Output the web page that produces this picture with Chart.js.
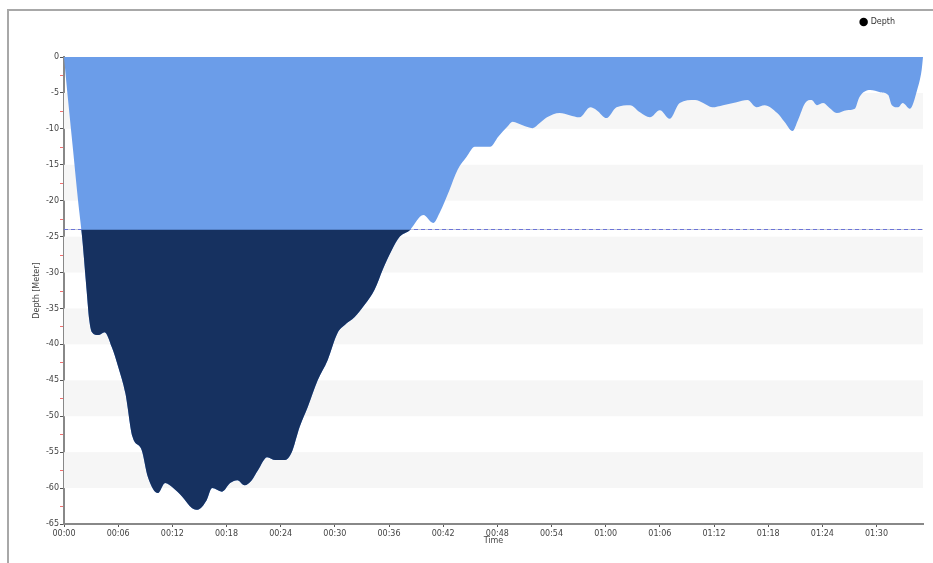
<!DOCTYPE html>
<html>
<head>
<meta charset="utf-8">
<script src="https://cdn.jsdelivr.net/npm/chart.js@4.4.1/dist/chart.umd.min.js"></script>
<style>
  html, body { margin: 0; padding: 0; background: #fff; }
  #frame { position: absolute; left: 7px; top: 9px; width: 926px; height: 554px;
           border-left: 2px solid #a8a8a8; border-top: 2px solid #a8a8a8; box-sizing: border-box; }
  #c { position: absolute; left: 0; top: 0; }
</style>
</head>
<body>
<div id="frame"></div>
<canvas id="c" width="933" height="563"></canvas>
<script>
// Dive time (minutes) and depth (meters)
const timeMin = [0, 0.45, 1.0, 1.55, 2.0, 2.5, 2.8, 3.1, 3.8, 4.5, 5.3, 6.0, 6.8, 7.6, 8.6, 9.3, 10.4, 11.2, 12.1, 13.1,
  14.2, 14.8, 15.8, 16.4, 17.5, 18.4, 19.2, 20.0, 20.8, 21.5, 22.5, 23.4, 24.5, 25.2, 26.1, 27.0, 28.1, 29.2, 30.3, 31.1,
  32.2, 33.3, 34.4, 35.3, 36.3, 37.2, 38.3, 39.8, 40.9, 41.6, 42.7, 43.6, 44.6, 45.5, 47.2, 48.1, 49.1, 49.7, 50.8, 51.9,
  52.7, 53.5, 54.9, 56.0, 57.1, 58.3, 59.0, 60.1, 61.2, 62.7, 63.8, 64.9, 66.0, 67.1, 68.2, 69.9, 70.8, 71.8, 73.0, 74.5,
  75.7, 76.7, 77.6, 79.0, 79.8, 80.7, 81.3, 82.1, 82.8, 83.4, 84.1, 84.8, 85.6, 86.7, 87.6, 88.1, 89.3, 90.4, 91.3, 91.7,
  92.4, 92.9, 93.7, 94.5, 95.0, 95.15];
const depthM = [0, -6, -12.9, -19.9, -25, -32.4, -36.6, -38.3, -38.7, -38.3, -40.4, -43.1, -46.8, -52.9, -54.7, -58.5, -60.7, -59.3, -60.0, -61.2,
  -62.8, -63.0, -61.7, -60.0, -60.5, -59.3, -58.9, -59.6, -58.9, -57.5, -55.7, -56.1, -56.1, -55.1, -51.5, -48.7, -45.0, -42.2, -38.4, -37.3,
  -36.2, -34.5, -32.4, -29.6, -26.9, -25.0, -24.1, -22.0, -23.1, -21.7, -18.5, -15.7, -13.9, -12.5, -12.5, -11.1, -9.7, -9.0, -9.5, -9.9,
  -9.2, -8.4, -7.8, -8.1, -8.4, -7.0, -7.4, -8.5, -7.0, -6.7, -7.7, -8.4, -7.4, -8.6, -6.4, -6.0, -6.4, -7.0, -6.7, -6.3,
  -6.0, -7.0, -6.7, -7.8, -9.0, -10.3, -8.8, -6.4, -6.0, -6.7, -6.4, -7.1, -7.8, -7.4, -7.2, -5.6, -4.6, -4.9, -5.3, -6.7,
  -7.0, -6.4, -7.2, -4.6, -1.8, 0];
const thresholdDepth = [-24];
const yTicks = [0, -5, -10, -15, -20, -25, -30, -35, -40, -45, -50, -55, -60, -65];
const xTickMinutes = [0, 6, 12, 18, 24, 30, 36, 42, 48, 54, 60, 66, 72, 78, 84, 90];
const seriesName = ['Depth'];

const fmtTime = v => {
  const h = Math.floor(v / 60), m = Math.round(v % 60);
  return String(h).padStart(2, '0') + ':' + String(m).padStart(2, '0');
};

const LIGHT = '#6b9de9';
const NAVY = '#163160';
const FONT = { family: 'DejaVu Sans', size: 8 };

const decor = {
  id: 'decor',
  beforeDatasetsDraw(chart) {
    const { ctx, chartArea: a, scales: { y } } = chart;
    ctx.save();
    ctx.fillStyle = '#f6f6f6';
    for (let v = -5; v > -65; v -= 10) {
      const y1 = y.getPixelForValue(v), y2 = y.getPixelForValue(v - 5);
      ctx.fillRect(a.left, y1, a.right - a.left, y2 - y1);
    }
    const ty = Math.round(y.getPixelForValue(thresholdDepth[0])) + 0.5;
    ctx.strokeStyle = '#8a8aff';
    ctx.lineWidth = 1;
    ctx.setLineDash([4, 3]);
    ctx.beginPath(); ctx.moveTo(a.left, ty); ctx.lineTo(a.right, ty); ctx.stroke();
    ctx.setLineDash([]);
    ctx.strokeStyle = '#f07070';
    for (let v = -2.5; v > -65; v -= 5) {
      const py = Math.round(y.getPixelForValue(v)) + 0.5;
      ctx.beginPath(); ctx.moveTo(a.left - 4, py); ctx.lineTo(a.left - 1, py); ctx.stroke();
    }
    ctx.restore();
  },
  afterLayout(chart) {
    const L = chart.legend;
    if (!L) return;
    const w = L.right - L.left;
    L.right = 905; L.left = L.right - w; L.width = w;
    L.top = 8; L.bottom = L.top + L.height;
  }
};

new Chart(document.getElementById('c'), {
  type: 'line',
  data: {
    datasets: [
      // dark part below the threshold (drawn on top)
      { label: seriesName[0], data: timeMin.map((t, i) => ({ x: t, y: depthM[i] })), borderWidth: 0, pointRadius: 0,
        backgroundColor: NAVY, borderColor: 'rgba(0,0,0,0)', cubicInterpolationMode: 'monotone',
        fill: { target: { value: thresholdDepth[0] }, above: 'rgba(0,0,0,0)', below: NAVY } },
      // light part from surface
      { label: seriesName[0], data: timeMin.map((t, i) => ({ x: t, y: depthM[i] })), borderWidth: 0, pointRadius: 0,
        backgroundColor: LIGHT, borderColor: 'rgba(0,0,0,0)', fill: 'origin', cubicInterpolationMode: 'monotone' }
    ]
  },
  options: {
    responsive: false,
    animation: false,
    layout: { padding: { left: 26, right: 10, top: 29, bottom: 17 } },
    plugins: {
      tooltip: { enabled: false },
      legend: {
        position: 'top', align: 'end',
        labels: {
          font: FONT, color: '#333', padding: 10, boxWidth: 6, boxHeight: 6, usePointStyle: true,
          generateLabels: () => [{ text: seriesName[0], fillStyle: '#000', strokeStyle: '#000', lineWidth: 0,
            pointStyle: 'circle', hidden: false, datasetIndex: 0, fontColor: '#333' }]
        }
      }
    },
    scales: {
      x: {
        type: 'linear', min: 0, max: timeMin[timeMin.length - 1],
        afterFit: s => { s.height = 22; },
        afterBuildTicks: s => { s.ticks = xTickMinutes.map(v => ({ value: v })); },
        ticks: { font: FONT, color: '#444', padding: 2, maxRotation: 0, autoSkip: false, callback: v => fmtTime(v) },
        grid: { drawOnChartArea: false, tickLength: 3, color: '#555' },
        border: { color: '#888', width: 2 },
        title: { display: true, text: 'Time', font: FONT, color: '#444', padding: { top: 0, bottom: 0 } }
      },
      y: {
        min: -65, max: 0,
        afterFit: s => { s.width = 38; },
        afterBuildTicks: s => { s.ticks = yTicks.map(v => ({ value: v })); },
        ticks: { font: FONT, color: '#444', padding: 1 },
        grid: { drawOnChartArea: false, tickLength: 4, color: '#555' },
        border: { color: '#888', width: 2 },
        title: { display: true, text: 'Depth [Meter]', font: FONT, color: '#444', padding: { top: 6, bottom: 0 } }
      }
    }
  },
  plugins: [decor]
});
</script>
</body>
</html>
